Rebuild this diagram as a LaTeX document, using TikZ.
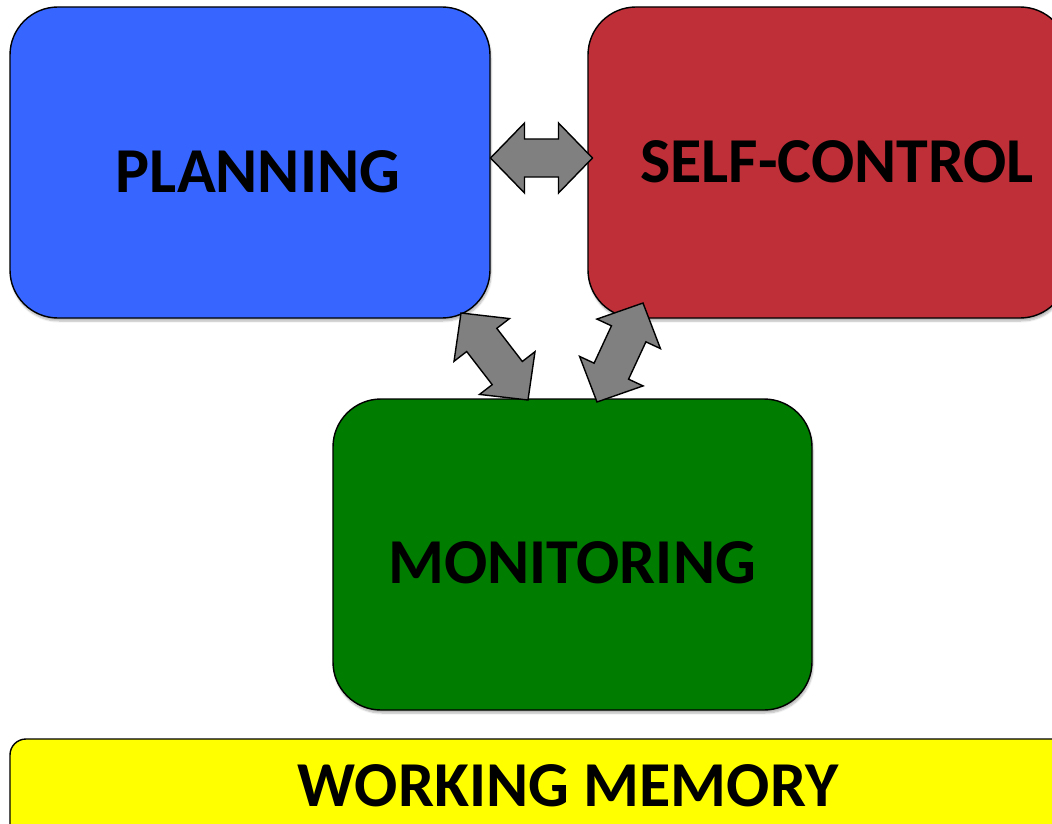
\documentclass[tikz,border=0pt]{standalone}
\usepackage{fontspec}
\setmainfont{Carlito}
\usetikzlibrary{calc,shadows.blur}
\definecolor{pblue}{RGB}{54,102,255}
\definecolor{sred}{RGB}{190,47,56}
\definecolor{mgreen}{RGB}{0,124,0}
\definecolor{wyellow}{RGB}{255,255,0}
\definecolor{agray}{RGB}{128,128,128}
\tikzset{
  box/.style={draw=black, line width=1.4pt, rounded corners=48pt, inner sep=0pt,
    blur shadow={shadow xshift=1pt, shadow yshift=-3pt, shadow blur steps=6, shadow opacity=30}},
  lbl/.style={font=\bfseries\fontsize{64}{68}\selectfont, text=black, inner sep=0pt, anchor=base},
  blockarrow/.style={draw=black, fill=agray, line width=1.4pt, line join=miter}
}
\newcommand{\dblarr}[2]{%
  \path[blockarrow]
   (#1)
   -- ($(#1)!34pt!(#2)!35pt!90:(#2)$)
   -- ($(#1)!34pt!(#2)!19pt!90:(#2)$)
   -- ($(#2)!34pt!(#1)!19pt!-90:(#1)$)
   -- ($(#2)!34pt!(#1)!35pt!-90:(#1)$)
   -- (#2)
   -- ($(#2)!34pt!(#1)!35pt!90:(#1)$)
   -- ($(#2)!34pt!(#1)!19pt!90:(#1)$)
   -- ($(#1)!34pt!(#2)!19pt!-90:(#2)$)
   -- ($(#1)!34pt!(#2)!35pt!-90:(#2)$)
   -- cycle;}
\begin{document}
\begin{tikzpicture}[x=1pt,y=-1pt]
\useasboundingbox (0,0) rectangle (1052,824);
\clip (0,0) rectangle (1052,824);
\node[box, fill=pblue, minimum width=480pt, minimum height=311pt] (plan) at (250,162.5) {};
\node[box, fill=sred, minimum width=480pt, minimum height=311pt] (self) at (828,162.5) {};
\node[box, fill=mgreen, minimum width=479pt, minimum height=311pt] (mon) at (572.5,554.5) {};
\node[box, fill=wyellow, rounded corners=16pt, minimum width=1060pt, minimum height=120pt] (wm) at (540,799) {};
\node[lbl] (plant) at (258,192.5) {PLANNING};
\node[lbl] (selft) at (837,182.5) {SELF-CONTROL};
\node[lbl] (mont) at (572,583) {MONITORING};
\node[lbl] (wmt) at (568,806.5) {WORKING MEMORY};
\coordinate (a1) at (490.5,158);
\coordinate (b1) at (592.5,158);
\coordinate (a2) at (461,313);
\coordinate (b2) at (528,400);
\coordinate (a3) at (643,303);
\coordinate (b3) at (597,402);
\dblarr{a1}{b1}
\dblarr{a2}{b2}
\dblarr{a3}{b3}
\end{tikzpicture}
\end{document}
